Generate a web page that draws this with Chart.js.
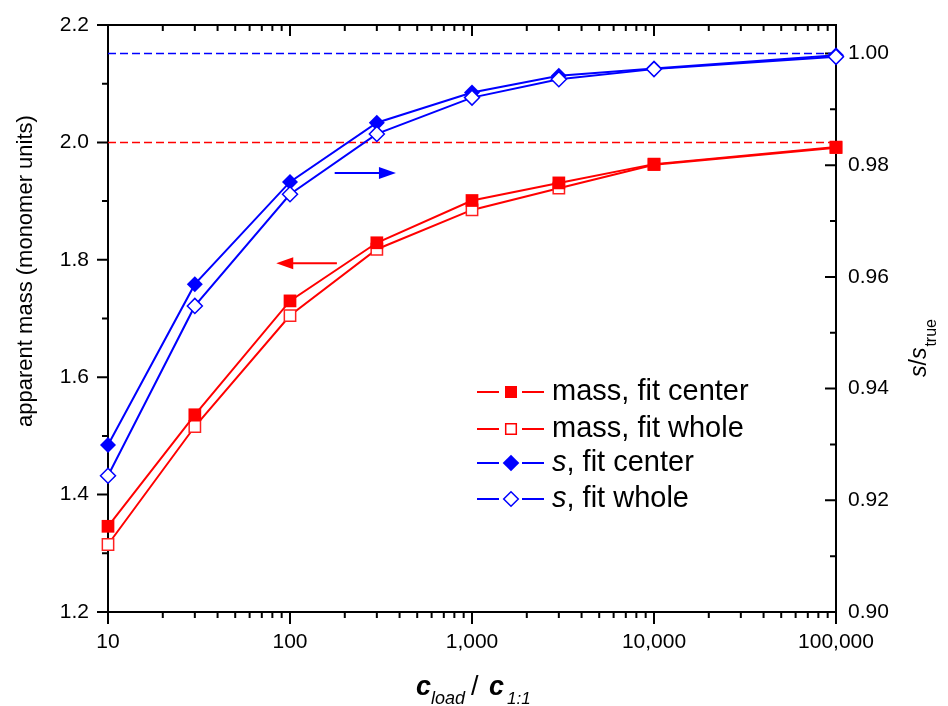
<!DOCTYPE html>
<html>
<head>
<meta charset="utf-8">
<script src="https://cdn.jsdelivr.net/npm/chart.js@4.4.1/dist/chart.umd.min.js"></script>
<style>
  body { margin: 0; background: #fff; }
  #wrap { width: 948px; height: 706px; }
</style>
</head>
<body>
<div id="wrap"><canvas id="chart"></canvas></div>
<script>
// data
const loadRatio = [10, 30, 100, 300, 1000, 3000, 10000, 100000];
const massCenter = [1.346, 1.536, 1.730, 1.829, 1.901, 1.931, 1.963, 1.992];
const massWhole = [1.315, 1.516, 1.705, 1.818, 1.885, 1.922, 1.962, 1.991];
const sCenter = [0.9299, 0.9587, 0.9770, 0.9876, 0.9930, 0.9960, 0.9973, 0.9997];
const sWhole = [0.9244, 0.9548, 0.9748, 0.9856, 0.9921, 0.9954, 0.9972, 0.9994];
const massTrue = 2.0;
const sTrue = 1.0;

// ticks
const xMajor = [10, 100, 1000, 10000, 100000];
const leftMajor = [1.2, 1.4, 1.6, 1.8, 2.0, 2.2];
const leftMinor = [1.3, 1.5, 1.7, 1.9, 2.1];
const rightMajor = [0.90, 0.92, 0.94, 0.96, 0.98, 1.00];
const rightMinor = [0.91, 0.93, 0.95, 0.97, 0.99];

// arrows (x from, x to, y value)
const arrowS = [176, 382, 0.9786];
const arrowMass = [181, 84, 1.794];

const legendItems = [
  { pre: '', label: 'mass, fit center', color: '#ff0000', style: 'square', filled: true },
  { pre: '', label: 'mass, fit whole', color: '#ff0000', style: 'square', filled: false },
  { pre: 's', label: ', fit center', color: '#0000ff', style: 'diamond', filled: true },
  { pre: 's', label: ', fit whole', color: '#0000ff', style: 'diamond', filled: false }
];

const xMinor = [];
for (let d = 10; d < 100000; d *= 10) {
  for (let k = 2; k <= 9; k++) xMinor.push(d * k);
}

function pts(ys) {
  return loadRatio.map((x, i) => ({ x: x, y: ys[i] }));
}

function fmtLeft(v) {
  const t = Math.round(v * 10);
  return (t % 2 === 0) ? (t / 10).toFixed(1) : '';
}
function fmtRight(v) {
  const t = Math.round(v * 100);
  if (Math.abs(v * 100 - t) > 1e-6) return '';
  return (t % 2 === 0) ? (t / 100).toFixed(2) : '';
}

function noPad(s) {
  s.paddingTop = 0; s.paddingBottom = 0; s.paddingLeft = 0; s.paddingRight = 0;
}

function drawMark(ctx, style, x, y, r, color, filled) {
  ctx.beginPath();
  if (style === 'square') {
    ctx.rect(x - r, y - r, 2 * r, 2 * r);
  } else {
    ctx.moveTo(x, y - r); ctx.lineTo(x + r, y); ctx.lineTo(x, y + r); ctx.lineTo(x - r, y);
    ctx.closePath();
  }
  ctx.fillStyle = filled ? color : '#fff';
  ctx.fill();
  if (!filled) {
    ctx.strokeStyle = color; ctx.lineWidth = 1.5; ctx.stroke();
  }
}

function arrow(ctx, x1, x2, y, color) {
  const dir = x2 > x1 ? 1 : -1;
  ctx.strokeStyle = color; ctx.fillStyle = color; ctx.lineWidth = 2;
  ctx.beginPath(); ctx.moveTo(x1, y); ctx.lineTo(x2 - dir * 14, y); ctx.stroke();
  ctx.beginPath();
  ctx.moveTo(x2, y); ctx.lineTo(x2 - dir * 17, y - 6); ctx.lineTo(x2 - dir * 17, y + 6);
  ctx.closePath(); ctx.fill();
}

const framePlugin = {
  id: 'frame',
  beforeDatasetsDraw(chart) {
    const { ctx, chartArea: a, scales } = chart;
    ctx.save();
    ctx.strokeStyle = '#000';
    ctx.lineWidth = 2;
    ctx.strokeRect(a.left, a.top, a.right - a.left, a.bottom - a.top);
    ctx.beginPath();
    xMajor.forEach(v => {
      const p = scales.x.getPixelForValue(v);
      ctx.moveTo(p, a.bottom); ctx.lineTo(p, a.bottom + 12);
      ctx.moveTo(p, a.top); ctx.lineTo(p, a.top + 11);
    });
    xMinor.forEach(v => {
      const p = scales.x.getPixelForValue(v);
      ctx.moveTo(p, a.bottom); ctx.lineTo(p, a.bottom + 6);
      ctx.moveTo(p, a.top); ctx.lineTo(p, a.top + 6);
    });
    leftMajor.forEach(v => {
      const p = scales.y.getPixelForValue(v);
      ctx.moveTo(a.left - 11, p); ctx.lineTo(a.left, p);
    });
    leftMinor.forEach(v => {
      const p = scales.y.getPixelForValue(v);
      ctx.moveTo(a.left - 6, p); ctx.lineTo(a.left, p);
    });
    rightMajor.forEach(v => {
      const p = scales.y1.getPixelForValue(v);
      ctx.moveTo(a.right - 11, p); ctx.lineTo(a.right, p);
    });
    rightMinor.forEach(v => {
      const p = scales.y1.getPixelForValue(v);
      ctx.moveTo(a.right - 6, p); ctx.lineTo(a.right, p);
    });
    ctx.stroke();
    ctx.restore();
  },
  afterDraw(chart) {
    const { ctx, scales } = chart;
    ctx.save();
    // arrows
    arrow(ctx, scales.x.getPixelForValue(arrowS[0]), scales.x.getPixelForValue(arrowS[1]),
      scales.y1.getPixelForValue(arrowS[2]), '#0000ff');
    arrow(ctx, scales.x.getPixelForValue(arrowMass[0]), scales.x.getPixelForValue(arrowMass[1]),
      scales.y.getPixelForValue(arrowMass[2]), '#ff0000');

    // legend
    const rows = [392, 429, 463, 499];
    legendItems.forEach((it, i) => {
      const y = rows[i];
      ctx.strokeStyle = it.color; ctx.lineWidth = 2;
      ctx.beginPath();
      ctx.moveTo(477, y); ctx.lineTo(499, y);
      ctx.moveTo(522, y); ctx.lineTo(544, y);
      ctx.stroke();
      const r = it.style === 'square' ? (it.filled ? 6 : 5.3) : (it.filled ? 8.3 : 7.3);
      drawMark(ctx, it.style, 511, y, r, it.color, it.filled);
      ctx.fillStyle = '#000';
      ctx.textBaseline = 'middle';
      ctx.textAlign = 'left';
      let x = 552;
      if (it.pre) {
        ctx.font = 'italic 29px "Liberation Sans", Arial, sans-serif';
        ctx.fillText(it.pre, x, y);
        x += ctx.measureText(it.pre).width;
      }
      ctx.font = '29px "Liberation Sans", Arial, sans-serif';
      ctx.fillText(it.label, x, y);
    });

    // left title
    ctx.fillStyle = '#000';
    ctx.textBaseline = 'alphabetic';
    ctx.save();
    ctx.translate(32, 271);
    ctx.rotate(-Math.PI / 2);
    ctx.textAlign = 'center';
    ctx.font = '22px "Liberation Sans", Arial, sans-serif';
    ctx.fillText('apparent mass (monomer units)', 0, 0);
    ctx.restore();

    // right title s/s_true
    ctx.save();
    ctx.translate(926, 377);
    ctx.rotate(-Math.PI / 2);
    ctx.textAlign = 'left';
    ctx.font = 'italic 23px "Liberation Sans", Arial, sans-serif';
    ctx.fillText('s', 0, 0);
    let w = ctx.measureText('s').width;
    ctx.font = '23px "Liberation Sans", Arial, sans-serif';
    ctx.fillText('/', w, 0);
    w += ctx.measureText('/').width;
    ctx.font = 'italic 23px "Liberation Sans", Arial, sans-serif';
    ctx.fillText('s', w, 0);
    w += ctx.measureText('s').width;
    ctx.font = '16px "Liberation Sans", Arial, sans-serif';
    ctx.fillText('true', w + 1, 10);
    ctx.restore();

    // bottom title c_load / c_1:1
    ctx.textAlign = 'left';
    ctx.font = 'italic bold 27px "Liberation Sans", Arial, sans-serif';
    ctx.fillText('c', 416, 695);
    ctx.font = 'italic 18px "Liberation Sans", Arial, sans-serif';
    ctx.fillText('load', 431, 704);
    ctx.font = '27px "Liberation Sans", Arial, sans-serif';
    ctx.fillText('/', 471, 695);
    ctx.font = 'italic bold 27px "Liberation Sans", Arial, sans-serif';
    ctx.fillText('c', 489, 695);
    ctx.font = 'italic 17px "Liberation Sans", Arial, sans-serif';
    ctx.fillText('1:1', 507, 704);

    ctx.restore();
  }
};

const tickFont = { family: '"Liberation Sans", Arial, sans-serif', size: 21 };

new Chart(document.getElementById('chart').getContext('2d'), {
  type: 'line',
  data: {
    datasets: [
      {
        label: 'mass, fit center',
        data: pts(massCenter),
        yAxisID: 'y',
        borderColor: '#ff0000',
        borderWidth: 2,
        pointStyle: 'rect',
        pointRadius: 9,
        pointBackgroundColor: '#ff0000',
        pointBorderColor: '#ff0000',
        pointBorderWidth: 0,
        clip: false,
        order: 2
      },
      {
        label: 'mass, fit whole',
        data: pts(massWhole),
        yAxisID: 'y',
        borderColor: '#ff0000',
        borderWidth: 2,
        pointStyle: 'rect',
        pointRadius: 8,
        pointBackgroundColor: '#ffffff',
        pointBorderColor: '#ff2020',
        pointBorderWidth: 1.5,
        clip: false,
        order: 3
      },
      {
        label: 's, fit center',
        data: pts(sCenter),
        yAxisID: 'y1',
        borderColor: '#0000ff',
        borderWidth: 2,
        pointStyle: 'rectRot',
        pointRadius: 8,
        pointBackgroundColor: '#0000ff',
        pointBorderColor: '#0000ff',
        pointBorderWidth: 0,
        clip: false,
        order: 1
      },
      {
        label: 's, fit whole',
        data: pts(sWhole),
        yAxisID: 'y1',
        borderColor: '#0000ff',
        borderWidth: 2,
        pointStyle: 'rectRot',
        pointRadius: 7.5,
        pointBackgroundColor: '#ffffff',
        pointBorderColor: '#0000ff',
        pointBorderWidth: 1.5,
        clip: false,
        order: 0
      },
      {
        label: 'mass true',
        data: [{ x: 10, y: massTrue }, { x: 100000, y: massTrue }],
        yAxisID: 'y',
        borderColor: '#ff0000',
        borderWidth: 1.5,
        borderDash: [8, 4],
        pointRadius: 0,
        order: 5
      },
      {
        label: 's true',
        data: [{ x: 10, y: sTrue }, { x: 100000, y: sTrue }],
        yAxisID: 'y1',
        borderColor: '#0000ff',
        borderWidth: 1.5,
        borderDash: [8, 4],
        pointRadius: 0,
        order: 5
      }
    ]
  },
  options: {
    responsive: true,
    maintainAspectRatio: false,
    animation: false,
    layout: { padding: { top: 25, left: 0, right: 0, bottom: 0 } },
    elements: { line: { tension: 0 } },
    plugins: { legend: { display: false }, tooltip: { enabled: false } },
    scales: {
      x: {
        type: 'logarithmic',
        min: 10,
        max: 100000,
        grid: { display: false, drawTicks: false },
        border: { display: false },
        afterFit: s => { s.height = 94; noPad(s); },
        ticks: {
          autoSkip: false,
          maxRotation: 0,
          padding: 18,
          color: '#000',
          font: tickFont,
          callback: v => xMajor.includes(v) ? v.toLocaleString('en-US') : ''
        }
      },
      y: {
        position: 'left',
        min: 1.2,
        max: 2.2,
        grid: { display: false, drawTicks: false },
        border: { display: false },
        afterFit: s => { s.width = 108; noPad(s); },
        ticks: { stepSize: 0.1, padding: 19, color: '#000', font: tickFont, callback: fmtLeft }
      },
      y1: {
        position: 'right',
        min: 0.9,
        max: 1.0051,
        grid: { display: false, drawTicks: false },
        border: { display: false },
        afterFit: s => { s.width = 112; noPad(s); },
        ticks: { stepSize: 0.01, padding: 12, color: '#000', font: tickFont, callback: fmtRight }
      }
    }
  },
  plugins: [framePlugin]
});
</script>
</body>
</html>
